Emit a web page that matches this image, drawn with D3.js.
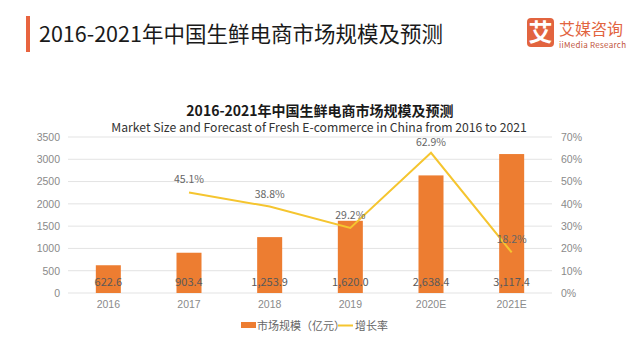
<!DOCTYPE html>
<html><head><meta charset="utf-8">
<script src="https://cdn.jsdelivr.net/npm/d3@7"></script>
<style>
html,body{margin:0;padding:0;background:#fff;}
svg{display:block;font-family:"Noto Sans CJK SC","Noto Sans",sans-serif;}
</style></head>
<body>
<svg id="chart" width="640" height="360"></svg>
<script>
const categories = ["2016","2017","2018","2019","2020E","2021E"];
const marketSize = [622.6, 903.4, 1253.9, 1620.0, 2638.4, 3117.4];
const growthRate = [null, 45.1, 38.8, 29.2, 62.9, 18.2];
const leftTicks = [0,500,1000,1500,2000,2500,3000,3500];
const rightTicks = [0,10,20,30,40,50,60,70];
const seriesNames = ["市场规模（亿元）","增长率"];

const svg = d3.select("#chart");
const W = 640, H = 360;
const m = {left:68, right:88, top:137, bottom:67};
const x = d3.scaleBand().domain(categories).range([m.left, W-m.right]).paddingInner(0.69).paddingOuter(0.345);
const yL = d3.scaleLinear().domain([0,3500]).range([H-m.bottom, m.top]);
const yR = d3.scaleLinear().domain([0,70]).range([H-m.bottom, m.top]);
const cx = d => x(d) + x.bandwidth()/2;

// header
svg.append("rect").attr("x",26).attr("y",16).attr("width",4).attr("height",36).attr("fill","#E8643F");
svg.append("text").attr("x",39).attr("y",42).attr("font-size",21.5).attr("fill","#1a1a1a")
  .text("2016-2021年中国生鲜电商市场规模及预测");
// logo
svg.append("rect").attr("x",527).attr("y",18).attr("width",27).attr("height",29).attr("rx",4).attr("fill","#E2643F");
svg.append("text").attr("x",540.5).attr("y",41).attr("text-anchor","middle").attr("font-size",24).attr("font-weight","bold").attr("fill","#fff").text("艾");
svg.append("text").attr("x",559).attr("y",34.5).attr("font-size",16).attr("fill","#E2643F").text("艾媒咨询");
svg.append("text").attr("x",559).attr("y",47.5).attr("font-size",8).attr("fill","#C0533A").attr("textLength",67).text("iiMedia Research");

// titles
svg.append("text").attr("x",320).attr("y",115.5).attr("text-anchor","middle").attr("font-size",14).attr("font-weight","bold").attr("fill","#1a1a1a")
  .text("2016-2021年中国生鲜电商市场规模及预测");
svg.append("text").attr("x",319).attr("y",131.5).attr("text-anchor","middle").attr("font-size",12.2).attr("fill","#333")
  .text("Market Size and Forecast of Fresh E-commerce  in China from 2016 to 2021");

// grid
svg.append("g").selectAll("line").data(leftTicks).join("line")
  .attr("x1",m.left).attr("x2",W-m.right).attr("y1",d=>yL(d)).attr("y2",d=>yL(d))
  .attr("stroke","#e3e3e3").attr("stroke-width",1);

// axes
const axL = svg.append("g").attr("transform",`translate(${m.left-8},0)`)
  .call(d3.axisLeft(yL).tickValues(leftTicks).tickSize(0).tickPadding(0).tickFormat(d3.format("d")));
axL.select(".domain").remove();
axL.selectAll("text").attr("fill","#8a8a8a").attr("font-size",10.5).attr("font-family","inherit");
const axR = svg.append("g").attr("transform",`translate(${W-m.right+9},0)`)
  .call(d3.axisRight(yR).tickValues(rightTicks).tickSize(0).tickPadding(0).tickFormat(d=>d+"%"));
axR.select(".domain").remove();
axR.selectAll("text").attr("fill","#8a8a8a").attr("font-size",10.5).attr("font-family","inherit");
const axB = svg.append("g").attr("transform",`translate(0,${H-m.bottom+8})`)
  .call(d3.axisBottom(x).tickSize(0).tickPadding(0));
axB.select(".domain").remove();
axB.selectAll("text").attr("fill","#8a8a8a").attr("font-size",10.5).attr("font-family","inherit").attr("dy","0.71em");

// bars
svg.append("g").selectAll("rect").data(categories).join("rect")
  .attr("x",d=>x(d)).attr("width",x.bandwidth())
  .attr("y",(d,i)=>yL(marketSize[i])).attr("height",(d,i)=>yL(0)-yL(marketSize[i]))
  .attr("fill","#ED7D31");
svg.append("g").selectAll("text").data(categories).join("text")
  .attr("x",d=>cx(d)).attr("y",yL(0)-7).attr("text-anchor","middle").attr("font-size",11).attr("fill","#595959")
  .text((d,i)=>d3.format(",.1f")(marketSize[i]));

// line
const pts = categories.map((c,i)=>({c, v:growthRate[i]})).filter(p=>p.v!==null);
svg.append("path").datum(pts)
  .attr("d", d3.line().x(p=>cx(p.c)).y(p=>yR(p.v)))
  .attr("fill","none").attr("stroke","#F5C52F").attr("stroke-width",2);
svg.append("g").selectAll("text").data(pts).join("text")
  .attr("x",p=>cx(p.c)).attr("y",p=>yR(p.v)-(p.v>60?7:9)).attr("text-anchor","middle").attr("font-size",10.5).attr("fill","#666")
  .text(p=>p.v.toFixed(1)+"%");

// legend
const lg = svg.append("g").attr("font-size",11).attr("fill","#666");
lg.append("rect").attr("x",241).attr("y",322).attr("width",15).attr("height",6).attr("fill","#ED7D31");
lg.append("text").attr("x",257).attr("y",329.5).text(seriesNames[0]);
lg.append("line").attr("x1",338).attr("x2",353).attr("y1",325.5).attr("y2",325.5).attr("stroke","#F5C52F").attr("stroke-width",2);
lg.append("text").attr("x",355).attr("y",329.5).text(seriesNames[1]);
</script>
</body></html>
